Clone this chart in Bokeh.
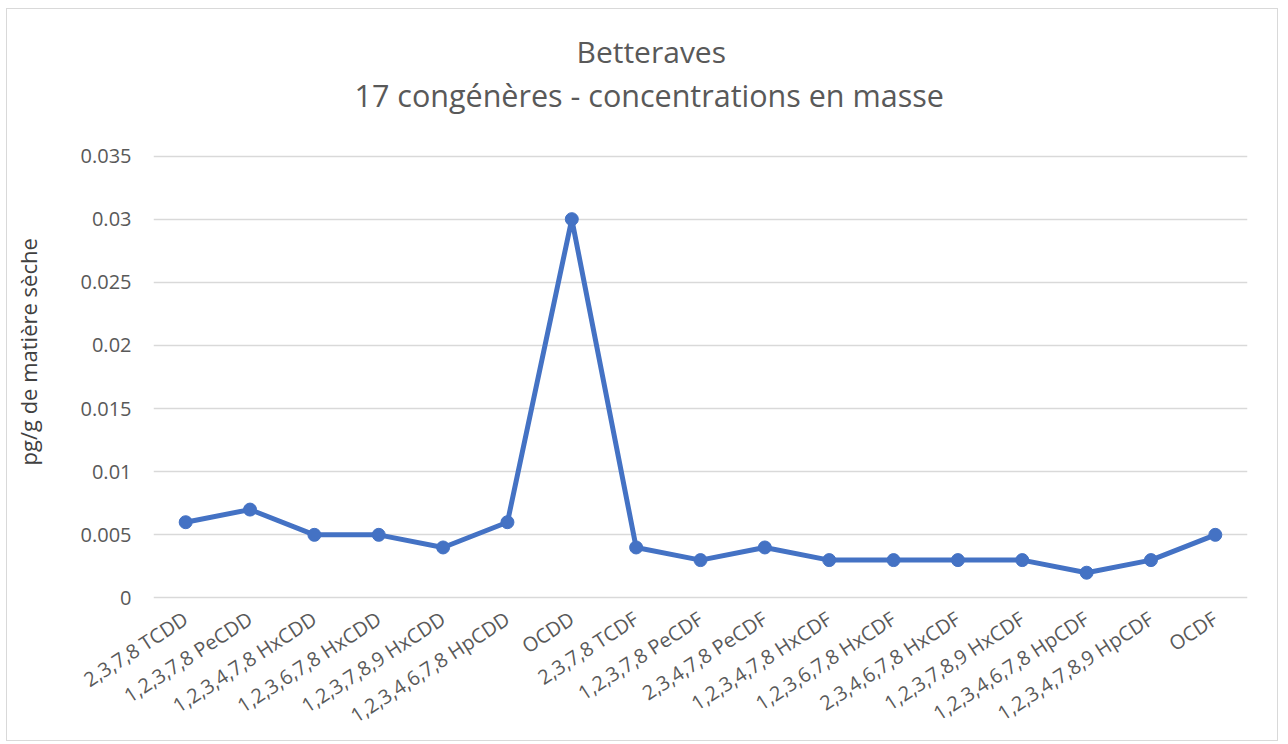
from bokeh.plotting import figure
from bokeh.models import Title, FixedTicker, NumeralTickFormatter, Range1d, FactorRange
from bokeh.embed import file_html
from bokeh.resources import INLINE
import math

categories = ["2,3,7,8 TCDD", "1,2,3,7,8 PeCDD", "1,2,3,4,7,8 HxCDD", "1,2,3,6,7,8 HxCDD",
              "1,2,3,7,8,9 HxCDD", "1,2,3,4,6,7,8 HpCDD", "OCDD", "2,3,7,8 TCDF",
              "1,2,3,7,8 PeCDF", "2,3,4,7,8 PeCDF", "1,2,3,4,7,8 HxCDF", "1,2,3,6,7,8 HxCDF",
              "2,3,4,6,7,8 HxCDF", "1,2,3,7,8,9 HxCDF", "1,2,3,4,6,7,8 HpCDF",
              "1,2,3,4,7,8,9 HpCDF", "OCDF"]
values = [0.006, 0.007, 0.005, 0.005, 0.004, 0.006, 0.030, 0.004,
          0.003, 0.004, 0.003, 0.003, 0.003, 0.003, 0.002, 0.003, 0.005]
y_ticks = [0, 0.005, 0.01, 0.015, 0.02, 0.025, 0.03, 0.035]

FONT = "Open Sans"
GRAY = "#595959"
BLUE = "#4472C4"

p = figure(width=1272, height=733, output_backend="svg", toolbar_location=None,
           x_range=FactorRange(*categories, range_padding=0),
           y_range=Range1d(-0.0002, 0.0352),
           min_border_left=146, min_border_right=32, min_border_top=144, min_border_bottom=141)
p.styles = {"border": "1.5px solid #d9d9d9", "margin-left": "6px", "margin-top": "8px"}
p.outline_line_color = None

p.title.text = "Betteraves"
p.title.align = "left"
p.title.offset = 423
p.title.text_font = FONT
p.title.text_font_size = "30px"
p.title.text_font_style = "normal"
p.title.text_color = GRAY
p.title.standoff = 0

spacer_top = Title(text=" ", text_font_size="1px", standoff=35)
p.add_layout(spacer_top, "above")
t2 = Title(text="17 congénères - concentrations en masse", align="left", offset=201,
           text_font=FONT, text_font_size="30.5px", text_font_style="normal",
           text_color=GRAY, standoff=0)
p.add_layout(t2, "above")

spacer_left = Title(text=" ", text_font_size="1px", standoff=32)
p.add_layout(spacer_left, "left")
ylab = Title(text="pg/g de matière sèche", align="left", offset=135, text_font=FONT,
             text_font_size="22px", text_font_style="normal", text_color="#404040", standoff=0)
p.add_layout(ylab, "left")

p.line(categories, values, line_color=BLUE, line_width=5)
p.scatter(categories, values, size=13, fill_color=BLUE, line_color=BLUE)

p.yaxis.ticker = FixedTicker(ticks=y_ticks)
p.yaxis.formatter = NumeralTickFormatter(format="0.[000]")

for ax in (p.xaxis[0], p.yaxis[0]):
    ax.axis_line_color = None
    ax.major_tick_line_color = None
    ax.minor_tick_line_color = None
    ax.major_label_text_font = FONT
    ax.major_label_text_font_size = "20px"
    ax.major_label_text_color = GRAY

p.yaxis.major_label_standoff = 16
p.xaxis.major_label_orientation = math.radians(33)
p.xaxis.major_label_standoff = 10

p.xgrid.grid_line_color = None
p.ygrid.grid_line_color = "#d9d9d9"
p.ygrid.grid_line_width = 1.5

open("out.html", "w").write(file_html(p, INLINE))
